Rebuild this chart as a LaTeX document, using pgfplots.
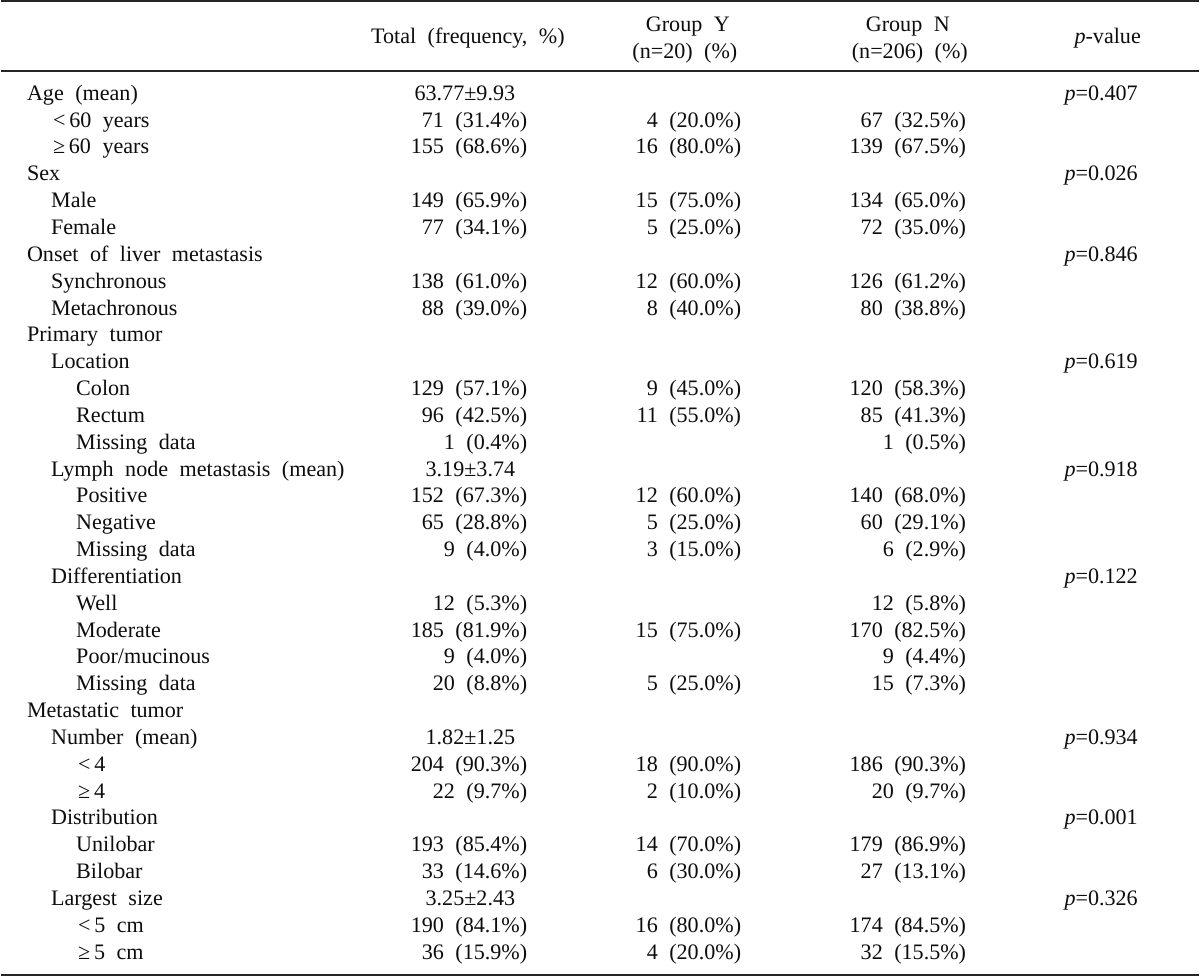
\documentclass[border=0pt]{standalone}
\usepackage{fontspec}
\setmainfont{Liberation Serif}
\usepackage{pgfplots}
\pgfplotsset{compat=1.18}
\newcommand\tabfont{\fontsize{11bp}{13bp}\selectfont\spaceskip=0.52em plus 0.1em minus 0.05em\relax}
\begin{document}
\begin{tikzpicture}
\begin{axis}[
  scale only axis, width=600bp, height=488bp,
  xmin=0, xmax=1200, ymin=-3.836, ymax=32.691, y dir=reverse,
  hide axis, clip=false,
  txt/.style={draw=none, mark=none, nodes near coords, point meta=explicit symbolic,
    every node near coord/.append style={inner sep=0pt, outer sep=0pt, font=\tabfont, text=black!95, anchor=#1}},
  rule/.style={black!85, line width=0.9bp, mark=none},
]
% rules
\addplot[rule] coordinates {(3,-3.705) (1196,-3.705)};
\addplot[rule] coordinates {(3,-1.104) (1196,-1.104)};
\addplot[rule] coordinates {(3,32.578) (1196,32.578)};
% header
\addplot[txt=base] coordinates {
  (468,-2.103) [Total (frequency, \%)]
  (687,-2.564) [Group Y]
  (684,-1.553) [(n=20) (\%)]
  (906,-2.564) [Group N]
  (908,-1.553) [(n=206) (\%)]
  (1105,-2.103) [\textit{p}-value]
};
% level 0 labels
\addplot[txt=base west] coordinates {
  (29,0) [Age (mean)]
  (29,3) [Sex]
  (29,6) [Onset of liver metastasis]
  (29,9) [Primary tumor]
  (29,23) [Metastatic tumor]
};
% level 1 labels
\addplot[txt=base west] coordinates {
  (55,1) [<\,60 years]
  (55,2) [≥\,60 years]
  (53,4) [Male]
  (53,5) [Female]
  (53,7) [Synchronous]
  (53,8) [Metachronous]
  (53,10) [Location]
  (53,14) [Lymph node metastasis (mean)]
  (53,18) [Differentiation]
  (53,24) [Number (mean)]
  (53,27) [Distribution]
  (53,30) [Largest size]
};
% level 2 labels
\addplot[txt=base west] coordinates {
  (78,11) [Colon]
  (78,12) [Rectum]
  (78,13) [Missing data]
  (78,15) [Positive]
  (78,16) [Negative]
  (78,17) [Missing data]
  (78,19) [Well]
  (78,20) [Moderate]
  (78,21) [Poor/mucinous]
  (78,22) [Missing data]
  (80,25) [<\,4]
  (80,26) [≥\,4]
  (78,28) [Unilobar]
  (78,29) [Bilobar]
  (80,31) [<\,5 cm]
  (80,32) [≥\,5 cm]
};
% mean +- sd
\addplot[txt=base east] coordinates {
  (515,0) [63.77±9.93]
  (515,14) [3.19±3.74]
  (515,24) [1.82±1.25]
  (515,30) [3.25±2.43]
};
% Total column
\addplot[txt=base east] coordinates {
  (527,1) [71 (31.4\%)]
  (527,2) [155 (68.6\%)]
  (527,4) [149 (65.9\%)]
  (527,5) [77 (34.1\%)]
  (527,7) [138 (61.0\%)]
  (527,8) [88 (39.0\%)]
  (527,11) [129 (57.1\%)]
  (527,12) [96 (42.5\%)]
  (527,13) [1 (0.4\%)]
  (527,15) [152 (67.3\%)]
  (527,16) [65 (28.8\%)]
  (527,17) [9 (4.0\%)]
  (527,19) [12 (5.3\%)]
  (527,20) [185 (81.9\%)]
  (527,21) [9 (4.0\%)]
  (527,22) [20 (8.8\%)]
  (527,25) [204 (90.3\%)]
  (527,26) [22 (9.7\%)]
  (527,28) [193 (85.4\%)]
  (527,29) [33 (14.6\%)]
  (527,31) [190 (84.1\%)]
  (527,32) [36 (15.9\%)]
};
% Group Y
\addplot[txt=base east] coordinates {
  (740,1) [4 (20.0\%)]
  (740,2) [16 (80.0\%)]
  (740,4) [15 (75.0\%)]
  (740,5) [5 (25.0\%)]
  (740,7) [12 (60.0\%)]
  (740,8) [8 (40.0\%)]
  (740,11) [9 (45.0\%)]
  (740,12) [11 (55.0\%)]
  (740,15) [12 (60.0\%)]
  (740,16) [5 (25.0\%)]
  (740,17) [3 (15.0\%)]
  (740,20) [15 (75.0\%)]
  (740,22) [5 (25.0\%)]
  (740,25) [18 (90.0\%)]
  (740,26) [2 (10.0\%)]
  (740,28) [14 (70.0\%)]
  (740,29) [6 (30.0\%)]
  (740,31) [16 (80.0\%)]
  (740,32) [4 (20.0\%)]
};
% Group N
\addplot[txt=base east] coordinates {
  (964,1) [67 (32.5\%)]
  (964,2) [139 (67.5\%)]
  (964,4) [134 (65.0\%)]
  (964,5) [72 (35.0\%)]
  (964,7) [126 (61.2\%)]
  (964,8) [80 (38.8\%)]
  (964,11) [120 (58.3\%)]
  (964,12) [85 (41.3\%)]
  (964,13) [1 (0.5\%)]
  (964,15) [140 (68.0\%)]
  (964,16) [60 (29.1\%)]
  (964,17) [6 (2.9\%)]
  (964,19) [12 (5.8\%)]
  (964,20) [170 (82.5\%)]
  (964,21) [9 (4.4\%)]
  (964,22) [15 (7.3\%)]
  (964,25) [186 (90.3\%)]
  (964,26) [20 (9.7\%)]
  (964,28) [179 (86.9\%)]
  (964,29) [27 (13.1\%)]
  (964,31) [174 (84.5\%)]
  (964,32) [32 (15.5\%)]
};
% p-values
\addplot[txt=base west] coordinates {
  (1062,0) [\textit{p}=0.407]
  (1062,3) [\textit{p}=0.026]
  (1062,6) [\textit{p}=0.846]
  (1062,10) [\textit{p}=0.619]
  (1062,14) [\textit{p}=0.918]
  (1062,18) [\textit{p}=0.122]
  (1062,24) [\textit{p}=0.934]
  (1062,27) [\textit{p}=0.001]
  (1062,30) [\textit{p}=0.326]
};
\end{axis}
\end{tikzpicture}
\end{document}
